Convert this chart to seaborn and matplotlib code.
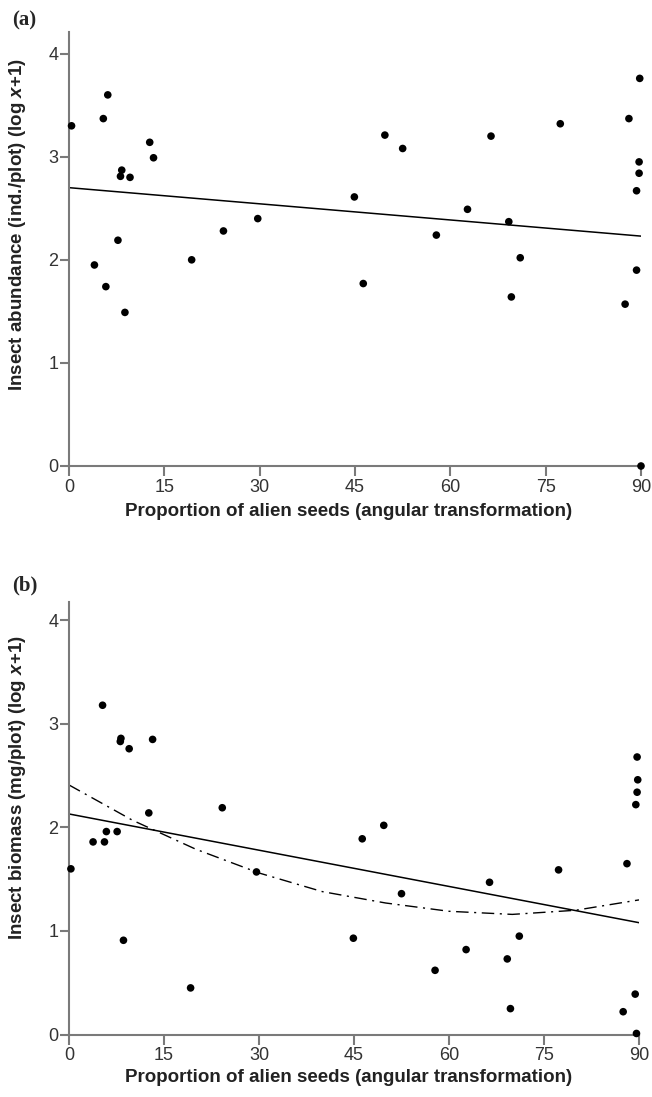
import numpy as np
import pandas as pd
import matplotlib
matplotlib.use("Agg")
import matplotlib.pyplot as plt
import seaborn as sns

# ---------------- data ----------------
abund_x = [0.4, 5.4, 6.1, 12.7, 13.3, 8.3, 8.1, 9.6, 7.7, 4.0, 5.8, 8.8, 19.3, 24.3, 29.7,
           49.7, 52.5, 44.9, 46.3, 57.8, 62.7, 66.4, 69.2, 71.0, 69.6, 77.3, 88.1, 89.8,
           89.7, 89.7, 89.3, 89.3, 87.5, 90.0]
abund_y = [3.30, 3.37, 3.60, 3.14, 2.99, 2.87, 2.81, 2.80, 2.19, 1.95, 1.74, 1.49, 2.00, 2.28, 2.40,
           3.21, 3.08, 2.61, 1.77, 2.24, 2.49, 3.20, 2.37, 2.02, 1.64, 3.32, 3.37, 3.76,
           2.95, 2.84, 2.67, 1.90, 1.57, 0.0]

biom_x = [5.3, 8.2, 8.1, 9.5, 13.2, 12.6, 24.2, 3.8, 5.6, 5.9, 7.6, 0.3, 8.6, 19.2, 29.6,
          49.7, 46.3, 89.7, 89.8, 89.7, 89.5, 52.5, 44.9, 66.4, 77.3, 88.1, 62.7, 57.8,
          71.1, 69.2, 69.7, 89.4, 87.5, 89.6]
biom_y = [3.18, 2.86, 2.83, 2.76, 2.85, 2.14, 2.19, 1.86, 1.86, 1.96, 1.96, 1.60, 0.91, 0.45, 1.57,
          2.02, 1.89, 2.68, 2.46, 2.34, 2.22, 1.36, 0.93, 1.47, 1.59, 1.65, 0.82, 0.62,
          0.95, 0.73, 0.25, 0.39, 0.22, 0.01]

# fitted lines
fit_a_x = [0, 90]
fit_a_y = [2.70, 2.23]
fit_b_x = [0, 90]
fit_b_y = [2.13, 1.08]
quad_b_x = [0, 10, 20, 30, 40, 50, 60, 70, 80, 90]
quad_b_y = [2.41, 2.07, 1.79, 1.56, 1.38, 1.27, 1.19, 1.16, 1.20, 1.30]

x_ticks = [0, 15, 30, 45, 60, 75, 90]
y_ticks = [0, 1, 2, 3, 4]

xlabel = "Proportion of alien seeds (angular transformation)"
ylabel_a = r"Insect abundance (ind./plot) (log $x$+1)"
ylabel_b = r"Insect biomass (mg/plot) (log $x$+1)"

# ---------------- style ----------------
sns.set_theme(style="ticks")
plt.rcParams["font.family"] = ["Liberation Sans", "DejaVu Sans"]
plt.rcParams["mathtext.fontset"] = "custom"
plt.rcParams["mathtext.rm"] = "Liberation Sans:weight=bold"
plt.rcParams["mathtext.it"] = "Liberation Sans:style=italic:weight=bold"
plt.rcParams["mathtext.bf"] = "Liberation Sans:weight=bold"

spine_col = "#7a7a7a"

fig = plt.figure(figsize=(6.52, 10.97), dpi=100)
ax_a = fig.add_axes([69/652, 1-466/1097, 572/652, (466-32)/1097])
ax_b = fig.add_axes([69/652, 1-1034.5/1097, 570/652, (1034.5-601.7)/1097])


def style_axes(ax, ylabel, ytop, ylab_y, xlab_y, h_px, w_px):
    ax.set_xlim(0, 90)
    ax.set_ylim(0, ytop)
    ax.set_xticks(x_ticks)
    ax.set_yticks(y_ticks)
    for s in ["top", "right"]:
        ax.spines[s].set_visible(False)
    for s in ["left", "bottom"]:
        ax.spines[s].set_color(spine_col)
        ax.spines[s].set_linewidth(1.5)
    ax.tick_params(axis="both", colors=spine_col, width=1.5, labelcolor="#333333",
                   labelsize=13)
    ax.tick_params(axis="y", length=6.5, pad=1)
    ax.tick_params(axis="x", length=7, pad=2)
    ax.set_xlabel(xlabel, fontsize=13.5, fontweight="bold", color="#222222")
    ax.set_ylabel(ylabel, fontsize=13.5, fontweight="bold", color="#222222")
    ax.yaxis.set_label_coords((28 - 69) / w_px, ylab_y)
    ax.xaxis.set_label_coords((348.5 - 69) / w_px, xlab_y)


# panel (a)
df_a = pd.DataFrame({"x": abund_x, "y": abund_y})
sns.scatterplot(data=df_a, x="x", y="y", ax=ax_a, color="black", s=30,
                edgecolor="none", clip_on=False, zorder=3)
sns.lineplot(x=fit_a_x, y=fit_a_y, ax=ax_a, color="black", linewidth=1.1)
style_axes(ax_a, ylabel_a, 4.21, (466 - 225) / 434, -(503 - 466) / 434, 434, 572)

# panel (b)
df_b = pd.DataFrame({"x": biom_x, "y": biom_y})
sns.scatterplot(data=df_b, x="x", y="y", ax=ax_b, color="black", s=30,
                edgecolor="none", clip_on=False, zorder=3)
sns.lineplot(x=fit_b_x, y=fit_b_y, ax=ax_b, color="black", linewidth=1.1)
sns.lineplot(x=quad_b_x, y=quad_b_y, ax=ax_b, color="black", linewidth=1.0,
             linestyle=(0, (9, 4, 1.5, 4)))
style_axes(ax_b, ylabel_b, 4.18, (1034.5 - 787.5) / 432.8, -(1069 - 1034.5) / 432.8,
           432.8, 570)

fig.text(12/652, 1-20/1097, "(a)", fontsize=15, fontweight="bold",
         family="Liberation Serif", va="center", ha="left")
fig.text(12/652, 1-585/1097, "(b)", fontsize=15, fontweight="bold",
         family="Liberation Serif", va="center", ha="left")

fig.savefig("out.png", dpi=100)
